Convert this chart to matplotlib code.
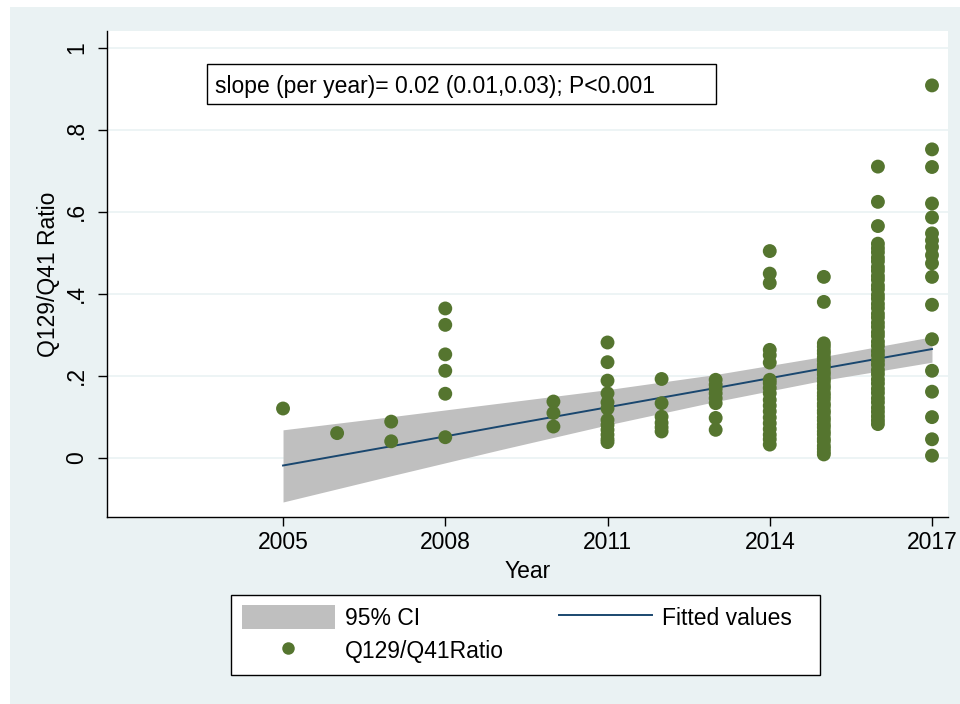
import matplotlib
matplotlib.use("Agg")
import matplotlib.pyplot as plt
from matplotlib.patches import Rectangle, Patch
from matplotlib.lines import Line2D
import numpy as np

plt.rcParams['font.family'] = ['Liberation Sans', 'DejaVu Sans']

# ---------------- data ----------------
years = [2005, 2006, 2007, 2008, 2010, 2011, 2012, 2013, 2014, 2015, 2016, 2017]
ratio_2005 = [0.12]
ratio_2006 = [0.06]
ratio_2007 = [0.088, 0.04]
ratio_2008 = [0.364, 0.324, 0.252, 0.212, 0.156, 0.05]
ratio_2010 = [0.137, 0.109, 0.076]
ratio_2011 = [0.281, 0.233, 0.188, 0.157, 0.135, 0.12, 0.092, 0.08, 0.068, 0.056, 0.045, 0.038]
ratio_2012 = [0.192, 0.133, 0.10, 0.085, 0.074, 0.064]
ratio_2013 = [0.19, 0.178, 0.168, 0.157, 0.145, 0.133, 0.097, 0.068]
ratio_2014 = [0.504, 0.449, 0.426, 0.263, 0.25, 0.232, 0.19, 0.182, 0.17, 0.157,
              0.141, 0.127, 0.113, 0.098, 0.084, 0.07, 0.056, 0.045, 0.032]
ratio_2015 = [0.441, 0.380, 0.279, 0.271, 0.261, 0.254, 0.244, 0.237, 0.227, 0.220,
              0.210, 0.203, 0.193, 0.186, 0.176, 0.169, 0.158, 0.151, 0.143, 0.132,
              0.126, 0.115, 0.109, 0.098, 0.091, 0.081, 0.074, 0.064, 0.057, 0.046,
              0.040, 0.029, 0.022, 0.014, 0.008]
ratio_2016 = [0.710, 0.624, 0.565, 0.522, 0.511, 0.501, 0.488, 0.479, 0.465, 0.456,
              0.443, 0.434, 0.420, 0.411, 0.397, 0.388, 0.375, 0.365, 0.351, 0.342,
              0.329, 0.319, 0.306, 0.297, 0.283, 0.273, 0.260, 0.250, 0.237, 0.227,
              0.214, 0.204, 0.191, 0.181, 0.168, 0.158, 0.145, 0.135, 0.122, 0.112,
              0.101, 0.091, 0.082]
ratio_2017 = [0.908, 0.752, 0.709, 0.620, 0.586, 0.547, 0.530, 0.514, 0.494, 0.474,
              0.441, 0.373, 0.289, 0.212, 0.161, 0.099, 0.045, 0.005]
ratios_by_year = [ratio_2005, ratio_2006, ratio_2007, ratio_2008, ratio_2010, ratio_2011,
                  ratio_2012, ratio_2013, ratio_2014, ratio_2015, ratio_2016, ratio_2017]

# fitted values and 95% CI read at several years
fit_years = [2005, 2007, 2009, 2011, 2013, 2015, 2017]
fit_values = [-0.019, 0.028, 0.076, 0.123, 0.170, 0.218, 0.265]
ci_upper = [0.068, 0.100, 0.133, 0.166, 0.203, 0.247, 0.295]
ci_lower = [-0.108, -0.044, 0.019, 0.080, 0.137, 0.189, 0.233]

x_ticks = [2005, 2008, 2011, 2014, 2017]
y_ticks = [0, 0.2, 0.4, 0.6, 0.8, 1.0]
y_tick_labels = ['0', '.2', '.4', '.6', '.8', '1']
annotation = "slope (per year)= 0.02 (0.01,0.03); P<0.001"

# ---------------- styling ----------------
W, H = 960, 704
BG = '#eaf2f3'
GREEN = '#55752f'
NAVY = '#1a476f'
CI_GRAY = '#bfbfbf'
FS = 16.5

def fx(px):
    return px / W

def fy(py):
    return 1 - py / H

fig = plt.figure(figsize=(W / 100, H / 100), dpi=100)
fig.patch.set_facecolor('white')
fig.patches.append(Rectangle((fx(10), 0), 1 - fx(10), fy(7), transform=fig.transFigure,
                             facecolor=BG, edgecolor='none', zorder=-3))

ax = fig.add_axes([fx(107), fy(517), fx(948) - fx(107), fy(31) - fy(517)])
ax.set_facecolor('white')
ax.set_xlim(2001.745, 2017.296)
ax.set_ylim(-0.1446, 1.0407)

for s in ['top', 'right']:
    ax.spines[s].set_visible(False)
for s in ['left', 'bottom']:
    ax.spines[s].set_color('black')
    ax.spines[s].set_linewidth(1.0)

ax.set_yticks(y_ticks)
ax.set_yticklabels(y_tick_labels, rotation=90, va='center', fontsize=FS)
ax.set_xticks(x_ticks)
ax.set_xticklabels([str(v) for v in x_ticks], fontsize=FS)
ax.tick_params(axis='both', direction='out', length=6.5, width=1.0, color='black')
ax.tick_params(axis='y', pad=7)
ax.tick_params(axis='x', pad=3.5)
ax.yaxis.grid(True, color=BG, linewidth=1.2, zorder=0)
ax.set_axisbelow(True)

ax.set_xlabel('Year', fontsize=FS, labelpad=4.5)
ax.set_ylabel('Q129/Q41 Ratio', fontsize=FS, labelpad=4)

# CI band and fitted line
ax.fill_between(fit_years, ci_lower, ci_upper, color=CI_GRAY, linewidth=0, zorder=2)
ax.plot(fit_years, fit_values, color=NAVY, linewidth=1.4, zorder=3)

# scatter
xs = np.concatenate([[yr] * len(v) for yr, v in zip(years, ratios_by_year)])
ys = np.concatenate(ratios_by_year)
ax.scatter(xs, ys, s=100, color=GREEN, edgecolors='none', zorder=4, clip_on=False)

# annotation box
ax.add_patch(Rectangle((fx(207), fy(104)), fx(716) - fx(207), fy(64) - fy(104),
                       transform=fig.transFigure, facecolor='white', edgecolor='black',
                       linewidth=1.0, zorder=5, clip_on=False))
ax.text(fx(215), fy(87), annotation, transform=fig.transFigure, fontsize=FS,
        ha='left', va='center', zorder=6)

# legend frame
fig.patches.append(Rectangle((fx(231), fy(675)), fx(820) - fx(231), fy(595) - fy(675),
                             transform=fig.transFigure, facecolor='white',
                             edgecolor='black', linewidth=1.0, zorder=-1))
h_ci = Patch(facecolor=CI_GRAY, edgecolor='none')
h_fit = Line2D([], [], color=NAVY, linewidth=1.4)
h_sc = Line2D([], [], marker='o', linestyle='none', markersize=9, color=GREEN,
              markeredgecolor='none')
leg = ax.legend(handles=[h_ci, h_sc, h_fit], labels=['95% CI', 'Q129/Q41Ratio', 'Fitted values'],
                ncol=2, loc='upper left', bbox_to_anchor=(fx(242), fy(605)),
                bbox_transform=fig.transFigure, frameon=False, fontsize=FS,
                handlelength=4.05, handleheight=1.25, handletextpad=0.45,
                columnspacing=2.4, labelspacing=0.35, borderpad=0, borderaxespad=0)

fig.savefig('out.png', dpi=100, facecolor=fig.get_facecolor())
